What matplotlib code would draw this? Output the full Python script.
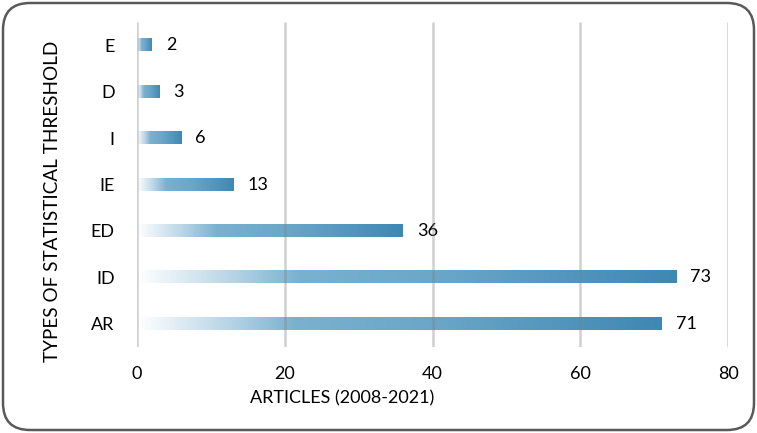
import numpy as np
import matplotlib.pyplot as plt
from matplotlib.colors import LinearSegmentedColormap
from matplotlib.patches import FancyBboxPatch

# data
categories = ['AR', 'ID', 'ED', 'IE', 'I', 'D', 'E']
articles = [71, 73, 36, 13, 6, 3, 2]
x_ticks = [0, 20, 40, 60, 80]

plt.rcParams['font.family'] = ['Lato', 'DejaVu Sans']

fig = plt.figure(figsize=(7.57, 4.33), dpi=100)

# rounded frame around the whole chart
frame = FancyBboxPatch((0.03, 0.03), 7.51, 4.27,
                       boxstyle='round,pad=0,rounding_size=0.27',
                       transform=fig.dpi_scale_trans, facecolor='white',
                       edgecolor='#595959', linewidth=1.8, zorder=-5)
fig.patches.append(frame)

ax = fig.add_axes([0.181, 0.1986, 0.7807, 0.7506])
ax.patch.set_alpha(0)
ax.set_zorder(2)

# gradient from white at the start of a bar to steel blue at its end
grad = LinearSegmentedColormap.from_list(
    'bar', [(0.0, '#ffffff'), (0.18, '#b5d3e5'), (0.3, '#7ab1cf'),
            (0.55, '#6ba7c8'), (0.75, '#5999c0'), (1.0, '#3e88b4')], N=256)
ramp = np.linspace(0, 1, 256).reshape(1, -1)
bar_h = 0.26

for i, v in enumerate(articles):
    ax.imshow(ramp, cmap=grad, aspect='auto',
              extent=(0, v, i - bar_h / 2, i + bar_h / 2), zorder=3)
    ax.text(v + 1.9, i, str(v), va='center', ha='left', fontsize=13,
            color='#000000')

ax.set_xlim(0, 80)
ax.set_ylim(-0.5, len(categories) - 0.5)
ax.set_xticks(x_ticks)
ax.set_yticks(range(len(categories)))
ax.set_yticklabels(categories)
ax.tick_params(axis='both', length=0, labelsize=13, colors='#000000')
ax.tick_params(axis='x', pad=14)
ax.tick_params(axis='y', pad=16)
for s in ax.spines.values():
    s.set_visible(False)

# gridlines show faintly through the bars
ax.vlines(x_ticks, -0.5, len(categories) - 0.5, colors='#808080',
          alpha=0.37, linewidth=1.8, zorder=4)

fig.text(0.452, 0.081, 'ARTICLES (2008-2021)', ha='center', va='center',
         fontsize=13)
fig.text(0.069, 0.536, 'TYPES OF STATISTICAL THRESHOLD', ha='center',
         va='center', rotation=90, fontsize=13.6)

fig.savefig('out.png', dpi=100)
